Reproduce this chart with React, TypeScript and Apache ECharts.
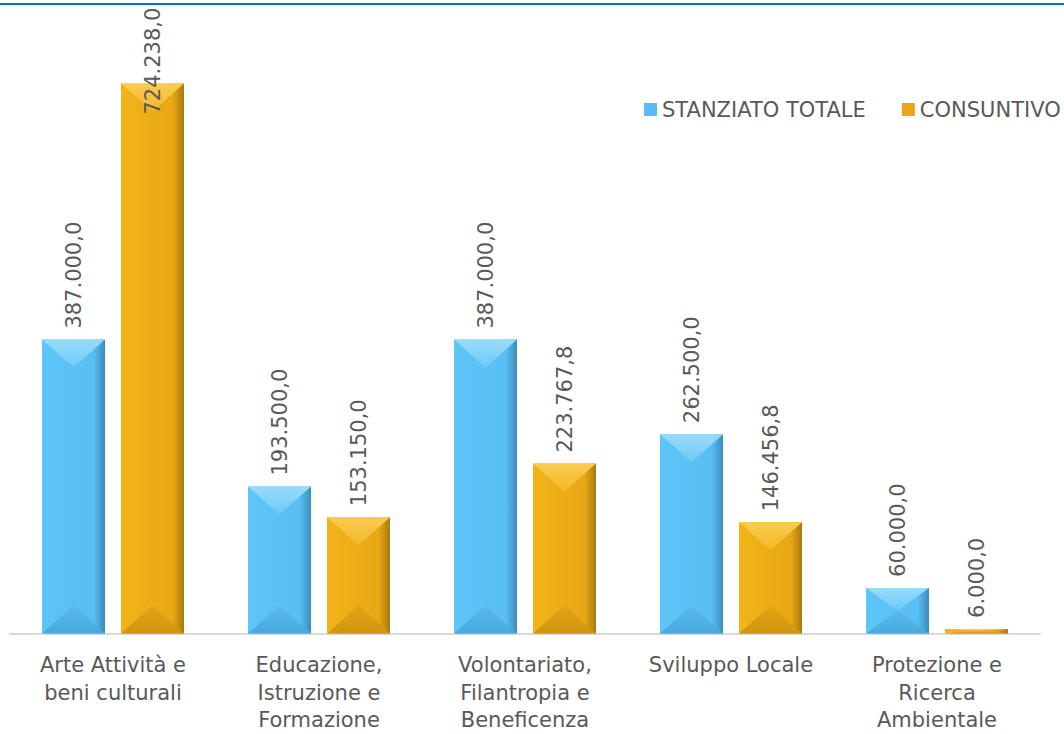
import React, { useEffect, useRef } from "react";
import * as echarts from "echarts";

const categories = [
  "Arte Attività e\nbeni culturali",
  "Educazione,\nIstruzione e\nFormazione",
  "Volontariato,\nFilantropia e\nBeneficenza",
  "Sviluppo Locale",
  "Protezione e\nRicerca\nAmbientale",
];
const stanziato = [387000.0, 193500.0, 387000.0, 262500.0, 60000.0];
const consuntivo = [724238.0, 153150.0, 223767.8, 146456.8, 6000.0];
const seriesNames = ["STANZIATO TOTALE", "CONSUNTIVO"];

function fmt(v: number): string {
  const fixed = v.toFixed(1);
  const [intPart, dec] = fixed.split(".");
  const withSep = intPart.replace(/\B(?=(\d{3})+(?!\d))/g, ".");
  return withSep + "," + dec;
}

const FONT = "DejaVu Sans";
const TXT = "#595959";
const BAR_W = 63;
const HALF_GAP = 8;

const palettes = [
  {
    body: ["#5ec5f7", "#59bff2", "#3b8cbc"],
    top: ["#98dcfa", "#6ccaf6"],
    bottom: ["#4aa9dc", "#58baec"],
    legend: "#55bdf0",
  },
  {
    body: ["#f2b31a", "#e8a814", "#a77a0e"],
    top: ["#f9cc50", "#f3b828"],
    bottom: ["#cf960f", "#e2a414"],
    legend: "#e8a814",
  },
];

function makeRender(s: number) {
  const pal = palettes[s];
  return (params: any, api: any) => {
    const i = api.value(0);
    const v = api.value(1);
    const [cx0, base] = api.coord([i, 0]);
    const top = api.coord([i, v])[1];
    const cx = cx0 + (s === 0 ? -1 : 1) * (HALF_GAP + BAR_W / 2);
    const x0 = cx - BAR_W / 2;
    const h = base - top;
    const d = Math.min(28, h / 2);
    const labelY = s === 1 && i === 0 ? top + 31 : top - 11;
    return {
      type: "group",
      children: [
        {
          type: "rect",
          shape: { x: x0, y: top, width: BAR_W, height: h },
          style: {
            fill: new echarts.graphic.LinearGradient(0, 0, 1, 0, [
              { offset: 0, color: pal.body[0] },
              { offset: 0.82, color: pal.body[1] },
              { offset: 1, color: pal.body[2] },
            ]),
          },
        },
        {
          type: "polygon",
          shape: { points: [[x0, top], [x0 + BAR_W, top], [cx, top + d]] },
          style: {
            fill: new echarts.graphic.LinearGradient(0, 0, 0, 1, [
              { offset: 0, color: pal.top[0] },
              { offset: 1, color: pal.top[1] },
            ]),
          },
        },
        {
          type: "polygon",
          shape: { points: [[x0, base], [x0 + BAR_W, base], [cx, base - d]] },
          style: {
            fill: new echarts.graphic.LinearGradient(0, 1, 0, 0, [
              { offset: 0, color: pal.bottom[0] },
              { offset: 1, color: pal.bottom[1] },
            ]),
          },
        },
        {
          type: "text",
          x: cx,
          y: labelY,
          rotation: Math.PI / 2,
          style: {
            text: fmt(v),
            fontFamily: FONT,
            fontSize: 21,
            fill: TXT,
            align: "left",
            verticalAlign: "middle",
          },
          z2: 10,
        },
      ],
    };
  };
}

export default function App() {
  const ref = useRef<HTMLDivElement>(null);
  useEffect(() => {
    document.body.style.margin = "0";
    const chart = echarts.init(ref.current!, null, { renderer: "svg" });
    chart.setOption({
      animation: false,
      textStyle: { fontFamily: FONT },
      graphic: [
        {
          type: "line",
          shape: { x1: 0, y1: 4, x2: 1064, y2: 4 },
          style: { stroke: "#0070c0", lineWidth: 2 },
        },
      ],
      legend: {
        data: seriesNames,
        left: 644,
        top: 99,
        width: 460,
        padding: 0,
        icon: "rect",
        itemWidth: 13,
        itemHeight: 13,
        itemGap: 36,
        textStyle: { fontFamily: FONT, fontSize: 21, color: TXT },
      },
      grid: { left: 10, right: 24, top: 26, bottom: 96 },
      xAxis: {
        type: "category",
        data: categories,
        axisLine: { lineStyle: { color: "#d9d9d9", width: 2 } },
        axisTick: { show: false },
        axisLabel: {
          fontFamily: FONT,
          fontSize: 21,
          color: TXT,
          lineHeight: 27.5,
          margin: 18,
          interval: 0,
        },
      },
      yAxis: {
        type: "value",
        min: 0,
        max: 800000,
        show: false,
        splitLine: { show: false },
      },
      series: [stanziato, consuntivo].map((arr, s) => ({
        name: seriesNames[s],
        type: "custom",
        data: arr.map((v, i) => [i, v]),
        encode: { x: 0, y: 1 },
        itemStyle: { color: palettes[s].legend },
        renderItem: makeRender(s),
        clip: false,
        silent: true,
      })),
    });
    return () => chart.dispose();
  }, []);
  return (
    <div
      ref={ref}
      style={{ position: "absolute", left: 0, top: 0, width: 1064, height: 734 }}
    />
  );
}
